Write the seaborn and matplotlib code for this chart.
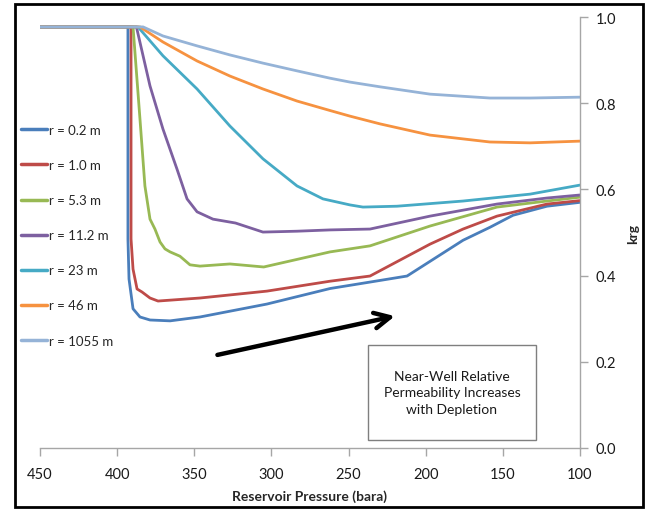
import matplotlib
matplotlib.use("Agg")
import matplotlib.pyplot as plt
from matplotlib.patches import Rectangle
import numpy as np
import pandas as pd
import seaborn as sns

# Gas relative permeability (krg) versus reservoir pressure at several radii
labels = ["r = 0.2 m", "r = 1.0 m", "r = 5.3 m", "r = 11.2 m", "r = 23 m", "r = 46 m", "r = 1055 m"]
colors = ["#4A7EBB", "#BE4B48", "#98B954", "#7D60A0", "#46AAC5", "#F69240", "#95B3D7"]

p_r02 = [450, 393.0, 393.0, 392.3, 389.7, 385.2, 378.7, 365.7, 346.3, 302.9, 262, 236.1, 212.1, 175.8, 158.4, 143.4, 121.4, 100]
k_r02 = [0.977, 0.977, 0.485, 0.392, 0.323, 0.304, 0.297, 0.295, 0.304, 0.334, 0.370, 0.385, 0.399, 0.482, 0.512, 0.540, 0.561, 0.570]

p_r10 = [450, 391.0, 391.0, 389.7, 387.1, 383.9, 378.7, 373.5, 365.7, 346.3, 302.9, 262, 236.1, 197.2, 175.8, 153.8, 121.4, 100]
k_r10 = [0.977, 0.977, 0.485, 0.415, 0.369, 0.362, 0.348, 0.341, 0.343, 0.348, 0.364, 0.387, 0.399, 0.473, 0.508, 0.538, 0.566, 0.574]

p_r53 = [450, 389.7, 385.2, 382.0, 378.7, 375.5, 372.2, 369.0, 365.7, 359.3, 352.8, 346.3, 326.9, 305, 262, 236.1, 197.2, 153.8, 121.4, 100]
k_r53 = [0.977, 0.977, 0.763, 0.608, 0.531, 0.508, 0.478, 0.462, 0.455, 0.445, 0.425, 0.422, 0.427, 0.420, 0.455, 0.469, 0.515, 0.559, 0.573, 0.582]

p_r112 = [450, 387.5, 378.7, 370.3, 361.2, 354.7, 348.2, 337.9, 323.3, 305.5, 283.4, 262, 236.1, 197.2, 153.8, 121.4, 100]
k_r112 = [0.977, 0.977, 0.840, 0.740, 0.647, 0.578, 0.548, 0.531, 0.522, 0.501, 0.503, 0.506, 0.508, 0.538, 0.566, 0.580, 0.587]

p_r23 = [450, 386.5, 370.3, 348.2, 326.9, 305.5, 283.4, 266.6, 249.1, 240.7, 218.6, 175.8, 132.4, 100]
k_r23 = [0.977, 0.977, 0.910, 0.833, 0.747, 0.671, 0.608, 0.578, 0.564, 0.559, 0.561, 0.573, 0.589, 0.610]

p_r46 = [450, 385.2, 370.3, 348.2, 326.9, 305.5, 283.4, 262, 249.1, 229.6, 197.2, 158.4, 132.4, 100]
k_r46 = [0.977, 0.977, 0.942, 0.898, 0.863, 0.833, 0.805, 0.783, 0.770, 0.752, 0.726, 0.710, 0.708, 0.712]

p_r1055 = [450, 383.2, 370.3, 348.2, 326.9, 305.5, 283.4, 262, 249.1, 229.6, 197.2, 158.4, 132.4, 100]
k_r1055 = [0.977, 0.977, 0.956, 0.933, 0.912, 0.893, 0.875, 0.858, 0.849, 0.838, 0.821, 0.812, 0.812, 0.814]

x_ticks = [450, 400, 350, 300, 250, 200, 150, 100]
y_ticks = [0.0, 0.2, 0.4, 0.6, 0.8, 1.0]

pressures = [p_r02, p_r10, p_r53, p_r112, p_r23, p_r46, p_r1055]
krgs = [k_r02, k_r10, k_r53, k_r112, k_r23, k_r46, k_r1055]

df = pd.concat(
    [pd.DataFrame({"pressure": p, "krg": k, "radius": lab}) for p, k, lab in zip(pressures, krgs, labels)],
    ignore_index=True,
)

sns.set_style("white")
plt.rcParams["font.family"] = ["Lato", "DejaVu Sans"]

W, H = 652, 510
fig = plt.figure(figsize=(W / 100, H / 100), dpi=100)
ax = fig.add_axes([40 / W, (H - 449) / H, 540 / W, 431 / H])

sns.lineplot(
    data=df, x="pressure", y="krg", hue="radius", hue_order=labels,
    palette=colors, estimator=None, sort=False, linewidth=2.0, ax=ax,
)
for line in ax.get_lines():
    line.set_solid_joinstyle("round")
    line.set_solid_capstyle("round")

ax.set_xlim(450, 100)
ax.set_ylim(0, 1.0)
ax.set_xticks(x_ticks)
ax.set_xticklabels([str(v) for v in x_ticks])
ax.set_yticks(y_ticks)
ax.set_yticklabels([f"{v:.1f}" for v in y_ticks])

axis_grey = "#A6A6A6"
for side in ("top", "left"):
    ax.spines[side].set_visible(False)
for side in ("bottom", "right"):
    ax.spines[side].set_color(axis_grey)
    ax.spines[side].set_linewidth(1.0)

ax.yaxis.tick_right()
ax.yaxis.set_label_position("right")
ax.tick_params(axis="x", direction="out", length=6, width=1, color=axis_grey,
               labelsize=10.5, pad=8, labelcolor="#1a1a1a", bottom=True)
ax.tick_params(axis="y", direction="out", length=6, width=1, color=axis_grey,
               labelsize=10.5, pad=5, labelcolor="#1a1a1a", right=True, left=False)

ax.set_xlabel("Reservoir Pressure (bara)", fontsize=10, fontweight="bold", labelpad=6)
ax.set_ylabel("krg", fontsize=10, fontweight="bold", labelpad=8)

# Legend down the left side
handles, labs = ax.get_legend_handles_labels()
leg = ax.legend(
    handles, labs, loc="upper left", bbox_to_anchor=(21 / W, (H - 125) / H),
    bbox_transform=fig.transFigure, frameon=False, fontsize=9.5,
    handlelength=2.0, handletextpad=0.15, labelspacing=1.75, borderpad=0, borderaxespad=0,
)
for line in leg.get_lines():
    line.set_linewidth(2.5)

# Depletion arrow
ax.annotate(
    "", xy=(220, 0.306), xytext=(335, 0.216),
    arrowprops=dict(arrowstyle="->", lw=3.2, color="black", mutation_scale=28,
                    shrinkA=0, shrinkB=0),
)

# Text box
ax.add_patch(Rectangle((128.6, 0.019), 237.4 - 128.6, 0.239 - 0.019,
                       facecolor="white", edgecolor="#7F7F7F", linewidth=1.0, zorder=5))
ax.text(183, 0.129, "Near-Well Relative\nPermeability Increases\nwith Depletion",
        ha="center", va="center", fontsize=10, linespacing=1.45, color="#1a1a1a", zorder=6)

# Outer frame around the whole chart
fig.add_artist(Rectangle((15 / W, 2 / H), 628 / W, 503 / H, transform=fig.transFigure,
                         fill=False, edgecolor="black", linewidth=2.0))

fig.savefig("out.png", dpi=100)
